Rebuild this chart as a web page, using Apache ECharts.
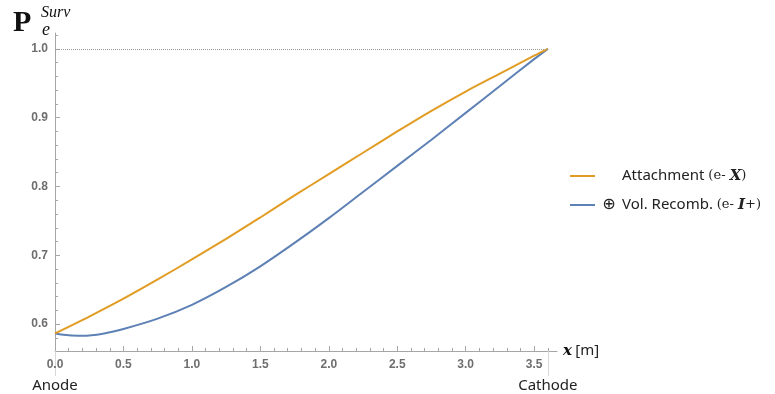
<!DOCTYPE html>
<html>
<head>
<meta charset="utf-8">
<script src="https://cdn.jsdelivr.net/npm/echarts@6/dist/echarts.min.js"></script>
<style>
  html, body { margin: 0; padding: 0; background: #fff; }
  #chart { width: 775px; height: 394px; }
</style>
</head>
<body>
<div id="chart"></div>
<script>
// positions along the drift (m)
const attachX = [0, 0.25, 0.5, 0.75, 1.0, 1.25, 1.5, 1.75, 2.0, 2.25, 2.5, 2.75, 3.0, 3.25, 3.5, 3.6];
const attachY = [0.5865, 0.611, 0.637, 0.665, 0.694, 0.724, 0.755, 0.787, 0.818, 0.849, 0.880, 0.910, 0.938, 0.964, 0.990, 1.0];

const recombX = [0, 0.1, 0.2, 0.35, 0.5, 0.75, 1.0, 1.25, 1.5, 1.75, 2.0, 2.25, 2.5, 2.75, 3.0, 3.25, 3.5, 3.6];
const recombY = [0.5865, 0.5838, 0.5832, 0.5862, 0.593, 0.608, 0.628, 0.654, 0.684, 0.718, 0.754, 0.792, 0.830, 0.868, 0.907, 0.946, 0.985, 1.0];

const xMajorTicks = [0, 0.5, 1.0, 1.5, 2.0, 2.5, 3.0, 3.5];
const xMinorTicks = [0.1, 0.2, 0.3, 0.4, 0.6, 0.7, 0.8, 0.9, 1.1, 1.2, 1.3, 1.4, 1.6, 1.7, 1.8, 1.9,
                     2.1, 2.2, 2.3, 2.4, 2.6, 2.7, 2.8, 2.9, 3.1, 3.2, 3.3, 3.4, 3.6];
const yMajorTicks = [0.6, 0.7, 0.8, 0.9, 1.0];
const yMinorTicks = [0.58, 0.62, 0.64, 0.66, 0.68, 0.72, 0.74, 0.76, 0.78, 0.82, 0.84, 0.86, 0.88,
                     0.92, 0.94, 0.96, 0.98, 1.02];
const electrodeX = [0, 3.6];
const electrodeNames = ['Anode', 'Cathode'];

const seriesNames = ['Attachment', 'Vol. Recomb.'];
const colors = ['#E19C24', '#5E81B5'];

const X_MIN = 0, X_MAX = 3.667, Y_MIN = 0.561, Y_MAX = 1.023;
const axisGrey = '#a6a6a6';
const labelGrey = '#6e6e6e';

const chart = echarts.init(document.getElementById('chart'));

const baseX = { type: 'value', position: 'bottom', min: X_MIN, max: X_MAX, splitLine: { show: false } };
const baseY = { type: 'value', position: 'left', min: Y_MIN, max: Y_MAX, splitLine: { show: false } };

const serif = 'Liberation Serif';

const option = {
    animation: false,
    title: [
        { left: 8, top: 3, text: 'P', textStyle: { fontFamily: serif, fontWeight: 'bold', fontSize: 30, color: '#111' } },
        { left: 36, top: 0, text: 'Surv', textStyle: { fontFamily: serif, fontStyle: 'italic', fontWeight: 'normal', fontSize: 16, color: '#111' } },
        { left: 37, top: 16, text: 'e', textStyle: { fontFamily: serif, fontStyle: 'italic', fontWeight: 'normal', fontSize: 18, color: '#111' } }
    ],
    legend: {
        orient: 'vertical',
        left: 565,
        top: 163,
        itemWidth: 25,
        itemHeight: 2,
        itemGap: 13,
        icon: 'rect',
        data: seriesNames,
        formatter: function (name) {
            if (name === 'Attachment') {
                return '{pre| }{t|Attachment }{e|(e- }{b|X}{e|)}';
            }
            return '{pre|⊕}{t|Vol. Recomb. }{e|(e- }{b|I}{e|+)}';
        },
        textStyle: {
            rich: {
                pre: { width: 18, align: 'right', fontSize: 16, color: '#222', fontFamily: 'DejaVu Sans', padding: [0, 4, 0, 0] },
                t: { fontSize: 15, color: '#222', fontFamily: 'Noto Sans' },
                e: { fontSize: 13, color: '#222', fontFamily: 'DejaVu Serif' },
                b: { fontSize: 15, color: '#222', fontFamily: 'DejaVu Serif', fontWeight: 'bold', fontStyle: 'italic' }
            }
        }
    },
    grid: { left: 55, right: 218, top: 33, bottom: 43, outerBoundsMode: 'none' },
    xAxis: [
        Object.assign({}, baseX, {
            name: '{x|x} {u|[m]}',
            nameLocation: 'end',
            nameGap: 6,
            nameTextStyle: {
                rich: {
                    x: { fontFamily: 'DejaVu Serif', fontWeight: 'bold', fontStyle: 'italic', fontSize: 15, color: '#111' },
                    u: { fontFamily: 'Noto Sans', fontSize: 15, color: '#222' }
                }
            },
            axisLine: { show: true, lineStyle: { color: axisGrey, width: 1 } },
            axisTick: { show: true, inside: true, length: 5, customValues: xMajorTicks, lineStyle: { color: axisGrey } },
            axisLabel: {
                customValues: xMajorTicks,
                margin: 8,
                color: labelGrey,
                fontWeight: 'bold',
                fontSize: 12,
                fontFamily: 'Liberation Sans',
                formatter: v => v.toFixed(1)
            }
        }),
        Object.assign({}, baseX, {
            axisLine: { show: false },
            axisTick: { show: true, inside: true, length: 3, customValues: xMinorTicks, lineStyle: { color: axisGrey } },
            axisLabel: { show: false }
        }),
        Object.assign({}, baseX, {
            axisLine: { show: false },
            axisTick: { show: true, inside: false, length: 25, customValues: electrodeX, lineStyle: { color: '#d8d8d8' } },
            axisLabel: {
                customValues: electrodeX,
                margin: 27,
                color: '#222',
                fontSize: 15,
                fontFamily: 'Noto Sans',
                formatter: v => electrodeNames[electrodeX.indexOf(v)]
            }
        })
    ],
    yAxis: [
        Object.assign({}, baseY, {
            axisLine: { show: true, lineStyle: { color: axisGrey, width: 1 } },
            axisTick: { show: true, inside: true, length: 5, customValues: yMajorTicks, lineStyle: { color: axisGrey } },
            axisLabel: {
                customValues: yMajorTicks,
                margin: 7,
                color: labelGrey,
                fontWeight: 'bold',
                fontSize: 12,
                fontFamily: 'Liberation Sans',
                formatter: v => v.toFixed(1)
            }
        }),
        Object.assign({}, baseY, {
            axisLine: { show: false },
            axisTick: { show: true, inside: true, length: 3, customValues: yMinorTicks, lineStyle: { color: axisGrey } },
            axisLabel: { show: false }
        })
    ],
    series: [
        {
            name: seriesNames[0],
            type: 'line',
            smooth: 0.3,
            showSymbol: false,
            color: colors[0],
            lineStyle: { width: 2, color: colors[0] },
            data: attachX.map((x, i) => [x, attachY[i]]),
            markLine: {
                silent: true,
                symbol: 'none',
                label: { show: false },
                lineStyle: { color: '#9a9a9a', type: 'dotted', width: 1 },
                data: [[{ coord: [0, 1.0] }, { coord: [3.6, 1.0] }]]
            },
            z: 3
        },
        {
            name: seriesNames[1],
            type: 'line',
            smooth: 0.3,
            showSymbol: false,
            color: colors[1],
            lineStyle: { width: 2, color: colors[1] },
            data: recombX.map((x, i) => [x, recombY[i]]),
            z: 2
        }
    ]
};

chart.setOption(option);
</script>
</body>
</html>
